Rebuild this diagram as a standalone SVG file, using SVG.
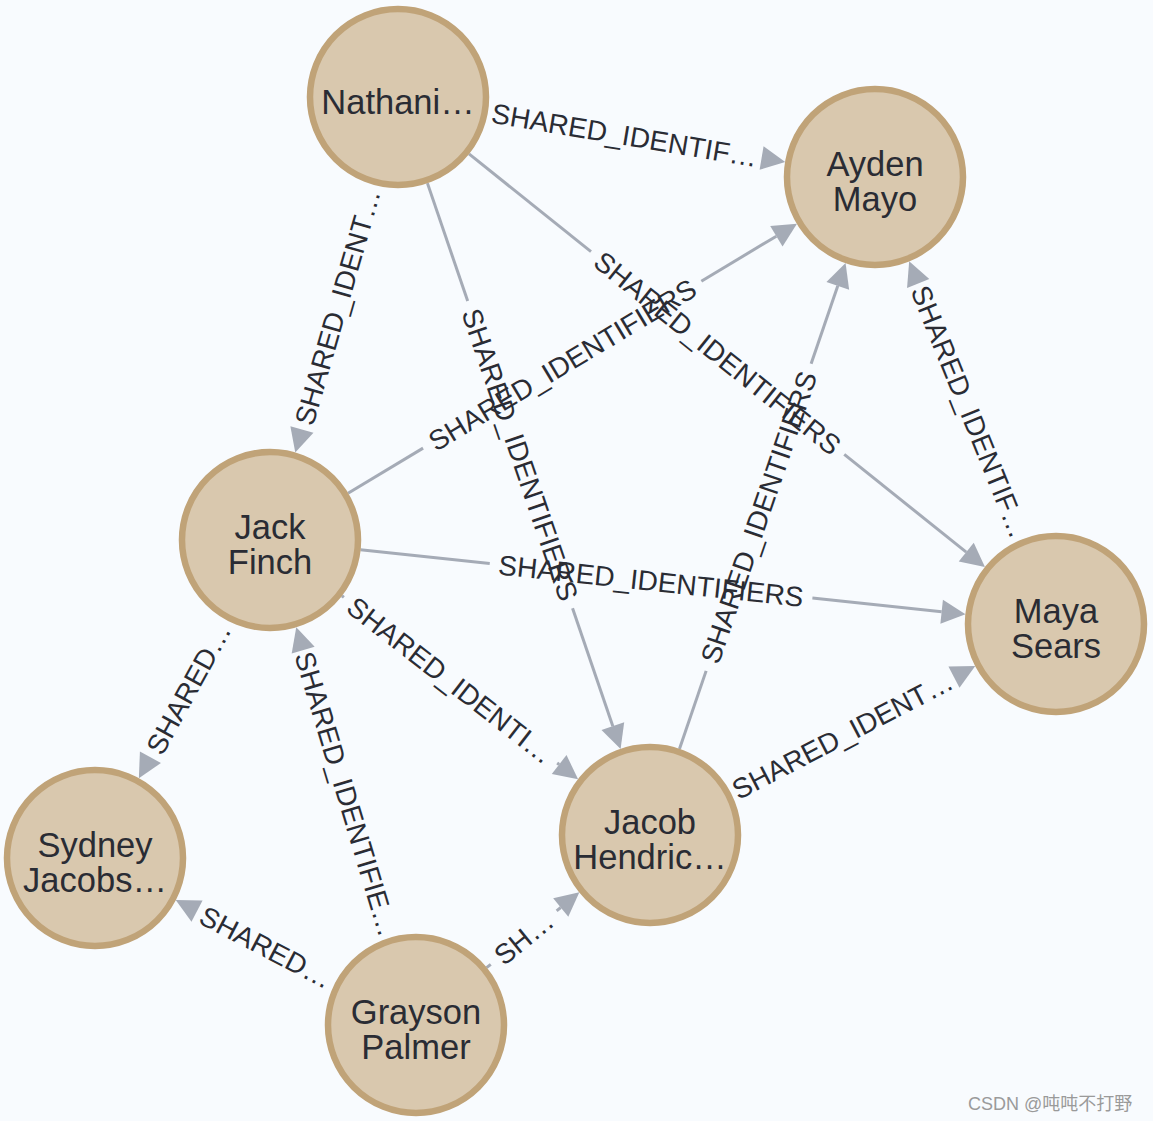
<svg xmlns="http://www.w3.org/2000/svg" xmlns:xlink="http://www.w3.org/1999/xlink" width="1153" height="1121" viewBox="0 0 1153 1121">
<style>
.bg{fill:#f8fbfe}
.node circle{fill:#d9c8ae;stroke:#c0a378;stroke-width:6.5}
.node text{font-family:"Liberation Sans",Arial,sans-serif;font-size:34.5px;fill:#2a2c34;text-anchor:middle}
.edges line{stroke:#a5abb6;stroke-width:3}
.edges text{font-family:"Liberation Sans",Arial,sans-serif;font-size:28px;fill:#2a2c34;text-anchor:middle}
.wm{font-family:"Liberation Sans","Noto Sans CJK SC",sans-serif;font-size:18px;fill:#9a9a9a}
</style>
<defs>
<path id="ah" d="M0,0 L-24,-12 L-24,12 Z" fill="#a5abb6"/>
</defs>
<rect class="bg" x="0" y="0" width="1153" height="1121"/>
<g class="edges" id="edges">
<g id="e1" transform="translate(487.75,112.05) rotate(9.521)">
<use xlink:href="#ah" href="#ah" x="301.66"/>
<text x="138.83" y="10">SHARED_IDENTIF…</text>
</g>
<g id="e2" transform="translate(372.74,184.42) rotate(106.116)">
<use xlink:href="#ah" href="#ah" x="279.12"/>
<text transform="translate(127.56,0) rotate(180)" y="10">SHARED_IDENT…</text>
</g>
<g id="e3" transform="translate(427.41,183.12) rotate(71.147)">
<line x1="0" y1="0" x2="124.67" y2="0"/>
<line x1="449.17" y1="0" x2="573.84" y2="0"/>
<use xlink:href="#ah" href="#ah" x="597.84"/>
<text x="286.92" y="10">SHARED_IDENTIFIERS</text>
</g>
<g id="e4" transform="translate(469.03,153.89) rotate(38.692)">
<line x1="0" y1="0" x2="156.27" y2="0"/>
<line x1="480.76" y1="0" x2="637.03" y2="0"/>
<use xlink:href="#ah" href="#ah" x="661.03"/>
<text x="318.52" y="10">SHARED_IDENTIFIERS</text>
</g>
<g id="e5" transform="translate(348.03,493.18) rotate(-30.964)">
<line x1="0" y1="0" x2="87.52" y2="0"/>
<line x1="412.02" y1="0" x2="499.54" y2="0"/>
<use xlink:href="#ah" href="#ah" x="523.54"/>
<text x="249.77" y="10">SHARED_IDENTIFIERS</text>
</g>
<g id="e6" transform="translate(360.48,549.67) rotate(6.100)">
<line x1="0" y1="0" x2="129.99" y2="0"/>
<line x1="454.49" y1="0" x2="584.48" y2="0"/>
<use xlink:href="#ah" href="#ah" x="608.48"/>
<text x="292.24" y="10">SHARED_IDENTIFIERS</text>
</g>
<g id="e7" transform="translate(341.88,595.80) rotate(37.83)">
<line x1="0" y1="0" x2="2.5" y2="0"/>
<line x1="272.57" y1="0" x2="275.07" y2="0"/>
<use xlink:href="#ah" href="#ah" x="299.07"/>
<text x="137.54" y="10">SHARED_IDENTI…</text>
</g>
<g id="e8" transform="translate(226.13,619.73) rotate(118.83)">
<use xlink:href="#ah" href="#ah" x="180.97"/>
<text transform="translate(78.49,0) rotate(180)" y="10">SHARED…</text>
</g>
<g id="e9" transform="translate(1021.85,539.65) rotate(-112.04)">
<use xlink:href="#ah" href="#ah" x="300.26"/>
<text transform="translate(138.13,0) rotate(180)" y="10">SHARED_IDENTIF…</text>
</g>
<g id="e10" transform="translate(679.44,748.89) rotate(-71.12)">
<line x1="0" y1="0" x2="82.45" y2="0"/>
<line x1="406.95" y1="0" x2="489.40" y2="0"/>
<use xlink:href="#ah" href="#ah" x="513.40"/>
<text x="244.70" y="10">SHARED_IDENTIFIERS</text>
</g>
<g id="e11" transform="translate(730.75,793.04) rotate(-27.46)">
<use xlink:href="#ah" href="#ah" x="275.55"/>
<text x="125.78" y="10">SHARED_IDENT…</text>
</g>
<g id="e12" transform="translate(389.77,937.86) rotate(-106.75)">
<use xlink:href="#ah" href="#ah" x="324.50"/>
<text transform="translate(150.25,0) rotate(180)" y="10">SHARED_IDENTIFIE…</text>
</g>
<g id="e13" transform="translate(335.27,983.0) rotate(-152.52)">
<use xlink:href="#ah" href="#ah" x="179.84"/>
<text transform="translate(77.92,0) rotate(180)" y="10">SHARED…</text>
</g>
<g id="e14" transform="translate(486.65,967.64) rotate(-39.07)">
<line x1="0" y1="0" x2="5.26" y2="0"/>
<line x1="90.16" y1="0" x2="95.42" y2="0"/>
<use xlink:href="#ah" href="#ah" x="119.42"/>
<text x="47.71" y="10">SH…</text>
</g>
</g>
<g class="node" id="n-nathaniel"><circle cx="398" cy="97" r="88"/><text x="398" y="114">Nathani…</text></g>
<g class="node" id="n-ayden"><circle cx="875" cy="177" r="88"/><text x="875" y="176">Ayden</text><text x="875" y="211">Mayo</text></g>
<g class="node" id="n-jack"><circle cx="270" cy="540" r="88"/><text x="270" y="539">Jack</text><text x="270" y="574">Finch</text></g>
<g class="node" id="n-maya"><circle cx="1056" cy="624" r="88"/><text x="1056" y="623">Maya</text><text x="1056" y="658">Sears</text></g>
<g class="node" id="n-jacob"><circle cx="650" cy="835" r="88"/><text x="650" y="834">Jacob</text><text x="650" y="869">Hendric…</text></g>
<g class="node" id="n-sydney"><circle cx="95" cy="858" r="88"/><text x="95" y="857">Sydney</text><text x="95" y="892">Jacobs…</text></g>
<g class="node" id="n-grayson"><circle cx="416" cy="1025" r="88"/><text x="416" y="1024">Grayson</text><text x="416" y="1059">Palmer</text></g>
<text class="wm" x="968" y="1110">CSDN @吨吨不打野</text>
</svg>
